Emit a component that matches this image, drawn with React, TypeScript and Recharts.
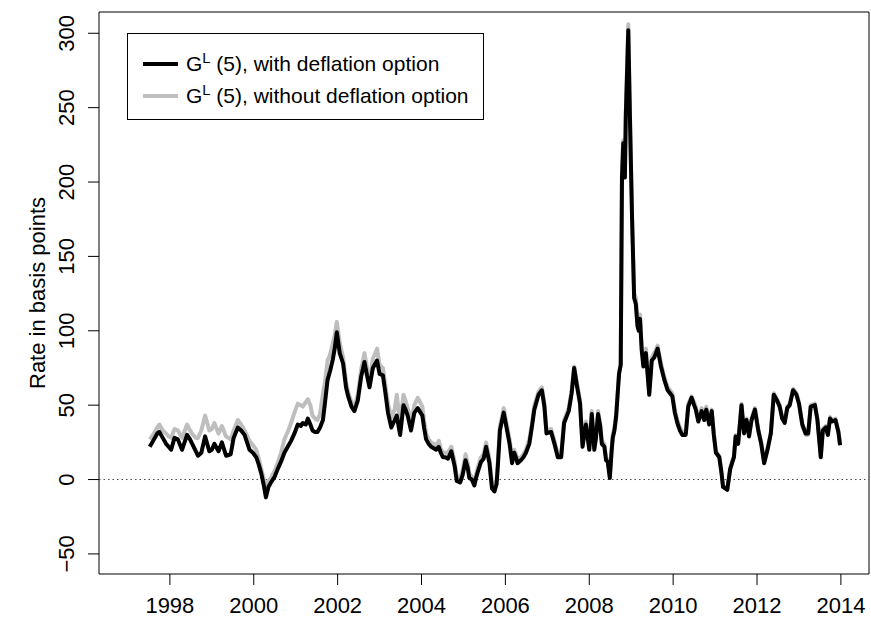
import React from 'react';
import { LineChart, Line, XAxis, YAxis, ReferenceLine, ReferenceArea, Legend, Label } from 'recharts';

// decimal years, weekly-ish sampling
const years = [
  1997.52, 1997.6, 1997.7, 1997.75, 1997.83, 1997.91, 1997.97, 1998.03, 1998.11, 1998.19,
  1998.29, 1998.41, 1998.48, 1998.55, 1998.62, 1998.67, 1998.75, 1998.84, 1998.94, 1999.0,
  1999.06, 1999.16, 1999.24, 1999.34, 1999.45, 1999.52, 1999.62, 1999.7, 1999.78, 1999.9,
  1999.98, 2000.06, 2000.12, 2000.18, 2000.24, 2000.29, 2000.35, 2000.41, 2000.5, 2000.57,
  2000.65, 2000.73, 2000.81, 2000.89, 2000.97, 2001.05, 2001.12, 2001.17, 2001.24, 2001.29,
  2001.35, 2001.4, 2001.46, 2001.52, 2001.58, 2001.65, 2001.7, 2001.76, 2001.82, 2001.88,
  2001.93, 2001.98, 2002.05, 2002.13, 2002.2, 2002.25, 2002.33, 2002.4, 2002.48, 2002.56,
  2002.64, 2002.7, 2002.76, 2002.84, 2002.94, 2003.0, 2003.08, 2003.14, 2003.2, 2003.28,
  2003.36, 2003.41, 2003.49, 2003.57, 2003.62, 2003.67, 2003.75, 2003.83, 2003.91, 2004.02,
  2004.06, 2004.11, 2004.17, 2004.23, 2004.29, 2004.35, 2004.41, 2004.46, 2004.51, 2004.57,
  2004.63, 2004.71, 2004.79, 2004.84, 2004.92, 2004.98, 2005.05, 2005.1, 2005.14, 2005.2,
  2005.26, 2005.3, 2005.34, 2005.42, 2005.48, 2005.54, 2005.62, 2005.68, 2005.74, 2005.79,
  2005.82, 2005.87, 2005.96, 2006.02, 2006.1, 2006.16, 2006.21, 2006.25, 2006.29, 2006.37,
  2006.43, 2006.49, 2006.57, 2006.63, 2006.69, 2006.79, 2006.87, 2006.93, 2006.98, 2007.09,
  2007.17, 2007.25, 2007.33, 2007.4, 2007.51, 2007.58, 2007.64, 2007.7, 2007.78, 2007.84,
  2007.88, 2007.92, 2008.0, 2008.06, 2008.12, 2008.16, 2008.21, 2008.26, 2008.3, 2008.36,
  2008.4, 2008.44, 2008.49, 2008.53, 2008.56, 2008.6, 2008.64, 2008.71, 2008.75, 2008.78,
  2008.81, 2008.85, 2008.87, 2008.93, 2008.97, 2009.02, 2009.07, 2009.11, 2009.15, 2009.18,
  2009.21, 2009.25, 2009.29, 2009.35, 2009.43, 2009.49, 2009.55, 2009.63, 2009.71, 2009.79,
  2009.87, 2009.98, 2010.04, 2010.1, 2010.16, 2010.22, 2010.3, 2010.36, 2010.44, 2010.5,
  2010.54, 2010.6, 2010.68, 2010.74, 2010.79, 2010.86, 2010.92, 2010.97, 2011.02, 2011.1,
  2011.15, 2011.19, 2011.29, 2011.36, 2011.45, 2011.49, 2011.55, 2011.63, 2011.69, 2011.75,
  2011.81, 2011.87, 2011.95, 2012.03, 2012.1, 2012.17, 2012.25, 2012.33, 2012.4, 2012.48,
  2012.54, 2012.6, 2012.66, 2012.72, 2012.78, 2012.86, 2012.94, 2013.0, 2013.08, 2013.16,
  2013.22, 2013.28, 2013.38, 2013.44, 2013.52, 2013.57, 2013.64, 2013.69, 2013.74, 2013.79,
  2013.87, 2013.94, 2013.98,
];

// G^L(5) with deflation option (black)
const withDeflation = [
  22, 26, 31, 32, 28, 24, 22, 20, 28, 27,
  20, 30, 27, 23, 19, 16, 18, 29, 19, 20,
  24, 19, 25, 16, 17, 28, 35, 33, 30, 20,
  18, 15, 10, 4, -4, -12, -5, -2, 2, 7,
  12, 18, 22, 26, 31, 37, 36, 38, 37, 41,
  37, 33, 32, 32, 35, 40, 52, 67, 73, 80,
  88, 99, 85, 78, 62, 56, 49, 46, 53, 69,
  79, 70, 62, 75, 80, 71, 70, 58, 45, 35,
  40, 43, 30, 50, 47, 43, 33, 45, 48, 43,
  35, 27, 24, 22, 21, 20, 22, 18, 15, 15,
  14, 19, 9, -1, -2, 3, 13, 8, 1, 0,
  -4, 1, 5, 12, 14, 22, 11, -6, -8, -3,
  9, 33, 45, 36, 24, 11, 18, 15, 11, 13,
  15, 18, 24, 35, 47, 57, 60, 49, 31, 32,
  24, 15, 15, 38, 46, 58, 75, 64, 51, 22,
  30, 37, 20, 44, 20, 28, 44, 36, 24, 22,
  13, 12, 1, 18, 28, 33, 42, 71, 77, 203,
  226, 203, 243, 302, 243, 176, 122, 118, 103, 100,
  108, 87, 76, 85, 57, 80, 82, 88, 76, 67,
  60, 56, 45, 38, 33, 30, 30, 49, 55, 50,
  47, 39, 46, 40, 47, 37, 46, 30, 18, 15,
  5, -5, -7, 7, 15, 29, 24, 50, 31, 40,
  29, 40, 47, 33, 24, 11, 20, 31, 57, 53,
  49, 41, 38, 48, 50, 60, 57, 51, 37, 31,
  31, 49, 50, 40, 15, 33, 35, 30, 41, 39,
  40, 32, 23,
];

// G^L(5) without deflation option (grey)
const withoutDeflation = [
  27, 30, 35, 37, 33, 31, 29, 28, 34, 33,
  28, 37, 33, 30, 28, 28, 33, 43, 33, 34,
  38, 31, 36, 29, 27, 33, 40, 37, 33, 26,
  23, 20, 14, 7, 0, -5, -1, 1, 6, 11,
  18, 27, 32, 38, 45, 51, 50, 49, 52, 54,
  50, 43, 41, 40, 44, 58, 66, 80, 84, 91,
  97, 106, 92, 82, 66, 59, 52, 49, 57, 74,
  85, 75, 66, 81, 88, 77, 75, 63, 51, 42,
  47, 57, 38, 57, 53, 48, 38, 50, 55, 49,
  40, 31, 27, 25, 24, 23, 26, 21, 18, 18,
  18, 22, 12, 2, 1, 6, 17, 11, 4, 2,
  -2, 3, 8, 15, 17, 25, 14, -3, -6, 0,
  12, 36, 48, 39, 27, 14, 20, 17, 13, 15,
  17, 20, 27, 37, 50, 59, 62, 51, 33, 34,
  26, 17, 17, 40, 48, 60, 76, 66, 53, 24,
  32, 39, 22, 46, 22, 30, 46, 38, 26, 24,
  15, 13, 2, 19, 30, 35, 44, 72, 78, 205,
  228, 205, 246, 306, 246, 178, 125, 122, 106, 103,
  111, 90, 78, 88, 59, 82, 85, 90, 78, 69,
  62, 58, 47, 40, 35, 32, 32, 51, 56, 52,
  49, 41, 48, 42, 49, 38, 47, 31, 19, 16,
  6, -4, -6, 8, 16, 30, 25, 51, 32, 41,
  30, 41, 48, 34, 25, 12, 21, 32, 58, 54,
  50, 42, 39, 49, 51, 61, 58, 52, 36, 30,
  30, 50, 51, 41, 16, 34, 36, 31, 42, 40,
  41, 33, 24,
];

const xTicks = [1998, 2000, 2002, 2004, 2006, 2008, 2010, 2012, 2014];
const yTicks = [-50, 0, 50, 100, 150, 200, 250, 300];
const seriesLabels = ['(5), with deflation option', '(5), without deflation option'];
const seriesColors = ['#000000', '#BEBEBE'];

const data = years.map((t, i) => ({ t, black: withDeflation[i], gray: withoutDeflation[i] }));

const FONT = '"Liberation Sans", Arial, Helvetica, sans-serif';
const FS = 22;
const LEGEND_FS = 21;
const X_DOMAIN: [number, number] = [1996.31, 2014.67];
const Y_DOMAIN: [number, number] = [-63.5, 314.3];

const fmt = (v: number) => (v < 0 ? '\u2212' + Math.abs(v) : String(v));

const XTick = ({ x, payload }: any) => (
  <text x={x} y={613} textAnchor="middle" fontFamily={FONT} fontSize={FS} fill="#000">
    {payload.value}
  </text>
);

const YTick = ({ y, payload }: any) => (
  <text
    transform={`translate(74, ${y}) rotate(-90)`}
    textAnchor="middle"
    fontFamily={FONT}
    fontSize={FS}
    fill="#000"
  >
    {fmt(payload.value)}
  </text>
);

const YTitle = ({ viewBox }: any) => (
  <text
    transform={`translate(45, ${viewBox.y + viewBox.height / 2}) rotate(-90)`}
    textAnchor="middle"
    fontFamily={FONT}
    fontSize={FS}
    fill="#000"
  >
    Rate in basis points
  </text>
);

const LegendBox = () => (
  <div
    style={{
      border: '1px solid #000',
      background: '#fff',
      padding: '14px 14px 7px 15px',
      fontFamily: FONT,
      fontSize: LEGEND_FS,
      color: '#000',
      whiteSpace: 'nowrap',
    }}
  >
    {seriesLabels.map((label, i) => (
      <div key={label} style={{ display: 'flex', alignItems: 'center', height: 32 }}>
        <span
          style={{ display: 'inline-block', width: 35, height: 4, background: seriesColors[i], marginRight: 8 }}
        />
        <span>
          G<sup style={{ fontSize: '0.7em', verticalAlign: '0.55em', lineHeight: 0 }}>L</sup> {label}
        </span>
      </div>
    ))}
  </div>
);

export default function App() {
  return (
    <div style={{ position: 'absolute', left: 0, top: 0, background: '#fff' }}>
      <LineChart width={871} height={619} data={data} margin={{ top: 12, right: 2, bottom: 0, left: 0 }}>
        <XAxis
          dataKey="t"
          type="number"
          domain={X_DOMAIN}
          allowDataOverflow
          ticks={xTicks}
          interval={0}
          height={45}
          axisLine={false}
          tickSize={11}
          tickLine={{ stroke: '#000' }}
          tick={<XTick />}
        />
        <YAxis
          type="number"
          domain={Y_DOMAIN}
          allowDataOverflow
          ticks={yTicks}
          interval={0}
          width={99}
          axisLine={false}
          tickSize={11}
          tickLine={{ stroke: '#000' }}
          tick={<YTick />}
        >
          <Label content={<YTitle />} />
        </YAxis>
        <ReferenceArea
          x1={X_DOMAIN[0]}
          x2={X_DOMAIN[1]}
          y1={Y_DOMAIN[0]}
          y2={Y_DOMAIN[1]}
          fill="none"
          stroke="#000"
          strokeWidth={1}
          ifOverflow="visible"
        />
        <ReferenceLine y={0} stroke="#444" strokeWidth={1} strokeDasharray="1.5 3" />
        <Line
          dataKey="gray"
          stroke={seriesColors[1]}
          strokeWidth={4}
          dot={false}
          activeDot={false}
          strokeLinejoin="round"
          isAnimationActive={false}
        />
        <Line
          dataKey="black"
          stroke={seriesColors[0]}
          strokeWidth={4}
          dot={false}
          activeDot={false}
          strokeLinejoin="round"
          isAnimationActive={false}
        />
        <Legend
          layout="vertical"
          align="center"
          verticalAlign="middle"
          content={<LegendBox />}
          wrapperStyle={{ left: 127, top: 33, width: 'auto', height: 'auto' }}
        />
      </LineChart>
    </div>
  );
}
